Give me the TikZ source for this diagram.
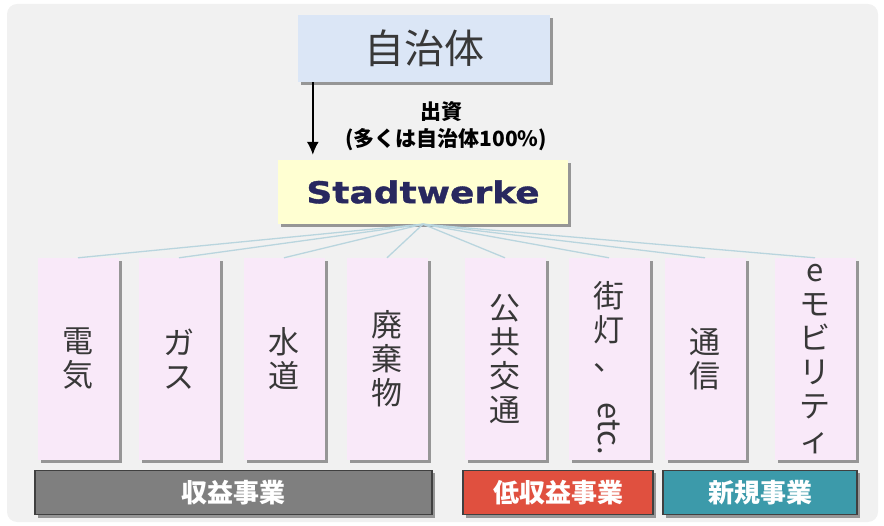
\documentclass[tikz,border=0pt]{standalone}
\usepackage{fontspec}
\usetikzlibrary{shadows,arrows.meta}
\newfontfamily\jpfont{Noto Sans CJK JP}
\newfontfamily\swfont{DejaVu Sans}[FakeStretch=1.2, BoldFeatures={FakeBold=1.2}]
\definecolor{bggray}{HTML}{F1F1F1}
\definecolor{kommblue}{HTML}{DBE6F6}
\definecolor{swyellow}{HTML}{FFFFD2}
\definecolor{fieldpink}{HTML}{F9E9F9}
\definecolor{linkblue}{HTML}{B9D5DE}
\definecolor{swnavy}{HTML}{28285F}
\definecolor{textgray}{HTML}{383838}
\definecolor{grpgray}{HTML}{7F7F7F}
\definecolor{grpred}{HTML}{E0503F}
\definecolor{grpteal}{HTML}{3C9AAA}
\tikzset{
  boxshadow/.style={drop shadow={shadow xshift=3pt, shadow yshift=-3pt, opacity=.55, fill=black!70}},
  field/.style={boxshadow, fill=fieldpink, minimum width=81pt, minimum height=202pt,
    inner sep=0pt, align=center, text=textgray, font=\jpfont\fontsize{31}{34}\selectfont},
  group/.style={boxshadow, draw=black!75, line width=1.6pt, minimum height=44pt,
    inner sep=0pt, text=white, font=\jpfont\bfseries\fontsize{26}{28}\selectfont},
  link/.style={draw=linkblue, line width=1.3pt}
}
\begin{document}
\begin{tikzpicture}[x=1pt, y=-1pt]
\useasboundingbox (0,0) rectangle (884,526);
\fill[bggray, rounded corners=10pt] (7,4) rectangle (878,522);
% top
\node[boxshadow, fill=kommblue, minimum width=252pt, minimum height=67pt, inner sep=0pt,
  text=textgray, font=\jpfont\fontsize{40}{42}\selectfont] (A_0_0) at (424,48.5) {自治体};
\node[boxshadow, fill=swyellow, minimum width=290pt, minimum height=64pt, inner sep=0pt,
  text=swnavy, font=\swfont\bfseries\fontsize{30}{32}\selectfont] (A_1_0) at (423,192) {Stadtwerke};
\draw[line width=1.6pt, -{Latex[length=13pt,width=12pt]}, shorten >=5pt] ([xshift=15pt]A_0_0.south west) -- ([xshift=35pt]A_1_0.north west);
\node[font=\jpfont\bfseries\fontsize{21}{23}\selectfont] (L_0_0) at (441,112) {出資};
\node[font=\jpfont\bfseries\fontsize{21}{23}\selectfont] (L_0_1) at (446,140) {(多くは自治体100\%)};
% fields
\node[field] (A_2_1) at (78,359) {電\\気};
\draw[link] (A_1_0.south) -- (A_2_1.north);
\node[field] (A_2_2) at (179,359) {ガ\\ス};
\draw[link] (A_1_0.south) -- (A_2_2.north);
\node[field] (A_2_3) at (284,359) {水\\道};
\draw[link] (A_1_0.south) -- (A_2_3.north);
\node[field] (A_2_4) at (387,359) {廃\\棄\\物};
\draw[link] (A_1_0.south) -- (A_2_4.north);
\node[field] (A_2_5) at (505,359) {公\\共\\交\\通};
\draw[link] (A_1_0.south) -- (A_2_5.north);
\node[field] (A_2_6) at (609,359) {街\\灯\\[-5pt]、\\[-2pt]\rotatebox{-90}{etc.}\\[-20pt]\mbox{}};
\draw[link] (A_1_0.south) -- (A_2_6.north);
\node[field] (A_2_7) at (705,359) {通\\信};
\draw[link] (A_1_0.south) -- (A_2_7.north);
\node[field] (A_2_8) at (815,359) {e\\モ\\ビ\\リ\\テ\\ィ};
\draw[link] (A_1_0.south) -- (A_2_8.north);
% groups
\node[group, fill=grpgray, minimum width=397pt] (A_3_1) at (233.5,492.5) {収益事業};
\node[group, fill=grpred, minimum width=190pt] (A_3_2) at (558,492.5) {低収益事業};
\node[group, fill=grpteal, minimum width=194pt] (A_3_3) at (760,492.5) {新規事業};
\end{tikzpicture}
\end{document}
